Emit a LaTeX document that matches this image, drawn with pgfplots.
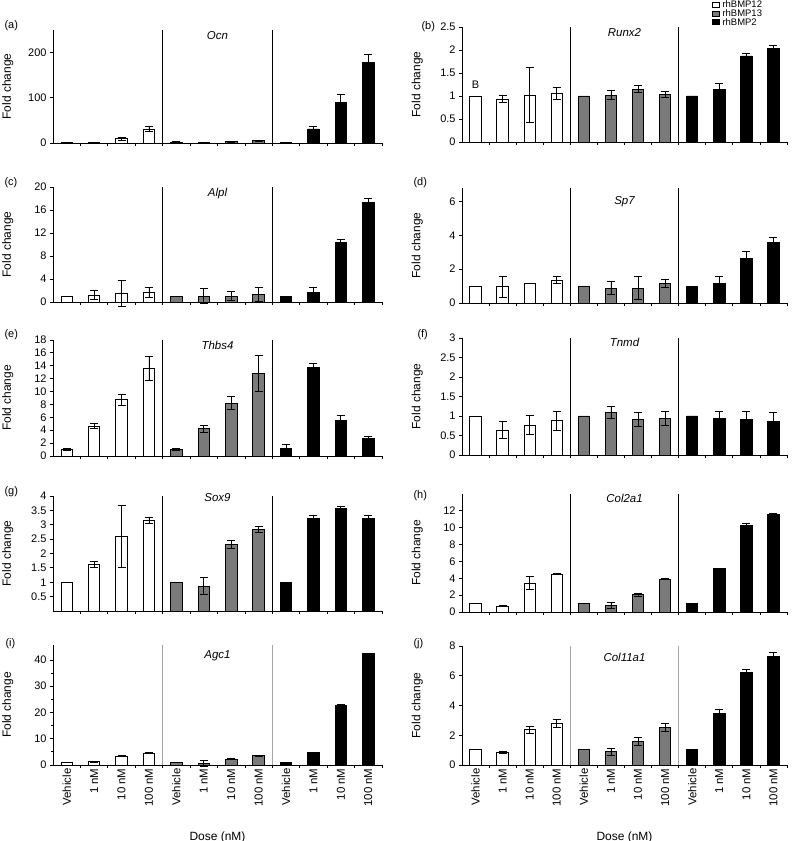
\documentclass[border=0pt]{standalone}
\usepackage{fontspec}
\setmainfont{Liberation Sans}
\usepackage{pgfplots}
\pgfplotsset{compat=1.18}
\definecolor{bgray}{HTML}{7A7A7A}
\pgfplotsset{
  eb/.style={error bars/.cd, y dir=both, y explicit,
    error bar style={line width=0.9bp, black},
    error mark options={line width=0.9bp, black, mark size=4bp, rotate=90}},
  wb/.style={ybar, bar shift=0pt, bar width=0.42, fill=white, draw=black, line width=0.9bp, eb},
  gb/.style={ybar, bar shift=0pt, bar width=0.42, fill=bgray, draw=black, line width=0.9bp, eb},
  kb/.style={ybar, bar shift=0pt, bar width=0.42, fill=black, draw=black, line width=0.9bp, eb},
  panel/.style={
    scale only axis, ybar,
    xmin=-0.5, xmax=11.5, ymin=0,
    axis x line*=bottom, axis y line*=left,
    axis line style={line width=0.8bp},
    xtick={0.5,1.5,...,11.5}, xticklabels={},
    tick align=outside, major tick length=3bp, minor tick length=2bp,
    tick style={line width=0.8bp, black},
    /pgf/number format/assume math mode=true,
    /pgf/number format/fixed,
    yticklabel style={font=\fontsize{11}{13}\selectfont},
    ylabel={Fold change},
    every axis y label/.style={at={(axis description cs:-0.11,0.5)}, rotate=90, anchor=south, font=\fontsize{12}{14}\selectfont},
    clip=false,
  },
  sep/.style={execute at end axis={\draw[line width=0.8bp,#1] (rel axis cs:0.33333,0) -- (rel axis cs:0.33333,1) (rel axis cs:0.66667,0) -- (rel axis cs:0.66667,1);}},
  bottom/.style={
    extra x ticks={0,...,11},
    extra x tick labels={Vehicle,1 nM,10 nM,100 nM,Vehicle,1 nM,10 nM,100 nM,Vehicle,1 nM,10 nM,100 nM},
    extra x tick style={major tick length=0pt, xticklabel style={rotate=90, anchor=east, font=\fontsize{11.5}{13}\selectfont}},
    xlabel={Dose (nM)},
    every axis x label/.style={at={(axis description cs:0.5,0)}, anchor=center, yshift=-72bp, font=\fontsize{12}{14}\selectfont},
  },
}
\newcommand{\gene}[2]{\node[font=\itshape\fontsize{11.5}{13}\selectfont] at (rel axis cs:0.5,#1) {#2};}
\begin{document}
\begin{tikzpicture}[x=1bp,y=1bp]
\useasboundingbox (0,0) rectangle (792,841);
\tikzset{plab/.style={anchor=west, font=\fontsize{11}{13}\selectfont}}
\node[plab] at (1,815) {(a)};
\node[plab] at (418,814) {(b)};
\node[plab] at (1,658) {(c)};
\node[plab] at (410,658) {(d)};
\node[plab] at (1,506) {(e)};
\node[plab] at (414,506) {(f)};
\node[plab] at (1,349) {(g)};
\node[plab] at (410,345) {(h)};
\node[plab] at (2,197) {(i)};
\node[plab] at (410,197) {(j)};

% (a) Ocn
\begin{axis}[panel, sep=black, at={(53bp,698bp)}, anchor=south west, width=329bp, height=113bp,
  ymax=250, ytick={0,100,200}]
\addplot[wb] coordinates {(0,1) +- (0,0) (1,1) +- (0,0) (2,9) +- (0,3) (3,31) +- (0,6)};
\addplot[gb] coordinates {(4,2) +- (0,0.5) (5,1.5) +- (0,0.5) (6,3) +- (0,1) (7,5) +- (0,1.5)};
\addplot[kb] coordinates {(8,1) +- (0,0) (9,31) +- (0,5) (10,89) +- (0,19) (11,178) +- (0,17)};
\gene{0.947}{Ocn}
\end{axis}

% (b) Runx2
\begin{axis}[panel, sep=black, at={(462bp,699bp)}, anchor=south west, width=325bp, height=115bp,
  ymax=2.5, ytick={0,0.5,...,2.5},
  legend style={at={(rel axis cs:0.77,1.235)}, anchor=north west, draw=none, fill=none,
    font=\fontsize{9.5}{9.5}\selectfont, row sep=0pt, column sep=2bp, inner sep=0pt,
    nodes={inner sep=0.5bp, text height=7.2bp, text depth=0.6bp}},
  legend cell align=left]
\addlegendimage{legend image code/.code={\draw[fill=white,draw=black,line width=0.6bp] (0bp,-2.5bp) rectangle (7bp,2.5bp);}}
\addlegendimage{legend image code/.code={\draw[fill=bgray,draw=black,line width=0.6bp] (0bp,-2.5bp) rectangle (7bp,2.5bp);}}
\addlegendimage{legend image code/.code={\draw[fill=black,draw=black,line width=0.6bp] (0bp,-2.5bp) rectangle (7bp,2.5bp);}}
\legend{rhBMP12,rhBMP13,rhBMP2}
\addplot[wb] coordinates {(0,1) +- (0,0) (1,0.93) +- (0,0.08) (2,1.02) +- (0,0.6) (3,1.05) +- (0,0.13)};
\addplot[gb] coordinates {(4,1) +- (0,0) (5,1.02) +- (0,0.1) (6,1.15) +- (0,0.08) (7,1.03) +- (0,0.06)};
\addplot[kb] coordinates {(8,1) +- (0,0) (9,1.15) +- (0,0.13) (10,1.87) +- (0,0.06) (11,2.03) +- (0,0.07)};
\gene{0.955}{Runx2}
\node[font=\fontsize{11}{13}\selectfont] at (axis cs:0,1.24) {B};
\end{axis}

% (c) Alpl
\begin{axis}[panel, sep=black, at={(53bp,539bp)}, anchor=south west, width=329bp, height=115bp,
  ymax=20, ytick={0,4,...,20}]
\addplot[wb] coordinates {(0,0.9) +- (0,0) (1,1.2) +- (0,0.75) (2,1.5) +- (0,2.3) (3,1.6) +- (0,0.85)};
\addplot[gb] coordinates {(4,0.9) +- (0,0) (5,1.0) +- (0,1.3) (6,1.0) +- (0,0.8) (7,1.3) +- (0,1.15)};
\addplot[kb] coordinates {(8,0.9) +- (0,0) (9,1.6) +- (0,0.85) (10,10.3) +- (0,0.6) (11,17.3) +- (0,0.7)};
\gene{0.94}{Alpl}
\end{axis}

% (d) Sp7
\begin{axis}[panel, sep=black, at={(462bp,538bp)}, anchor=south west, width=325bp, height=115bp,
  ymax=6.8, ytick={0,2,4,6}]
\addplot[wb] coordinates {(0,1) +- (0,0) (1,0.95) +- (0,0.6) (2,1.15) +- (0,0) (3,1.35) +- (0,0.2)};
\addplot[gb] coordinates {(4,1) +- (0,0) (5,0.88) +- (0,0.38) (6,0.88) +- (0,0.68) (7,1.17) +- (0,0.25)};
\addplot[kb] coordinates {(8,1) +- (0,0) (9,1.17) +- (0,0.38) (10,2.65) +- (0,0.38) (11,3.6) +- (0,0.28)};
\gene{0.88}{Sp7}
\end{axis}

% (e) Thbs4
\begin{axis}[panel, sep=black, at={(53bp,385bp)}, anchor=south west, width=329bp, height=116bp,
  ymax=18, ytick={0,2,...,18}]
\addplot[wb] coordinates {(0,1) +- (0,0.15) (1,4.6) +- (0,0.4) (2,8.7) +- (0,0.9) (3,13.6) +- (0,1.9)};
\addplot[gb] coordinates {(4,1) +- (0,0.1) (5,4.2) +- (0,0.5) (6,8.2) +- (0,1.0) (7,12.8) +- (0,2.8)};
\addplot[kb] coordinates {(8,1.2) +- (0,0.6) (9,13.8) +- (0,0.5) (10,5.5) +- (0,0.85) (11,2.65) +- (0,0.35)};
\gene{0.957}{Thbs4}
\end{axis}

% (f) Tnmd
\begin{axis}[panel, sep=black, at={(462bp,386bp)}, anchor=south west, width=325bp, height=117bp,
  ymax=3, ytick={0,0.5,...,3}]
\addplot[wb] coordinates {(0,1) +- (0,0) (1,0.64) +- (0,0.22) (2,0.77) +- (0,0.25) (3,0.88) +- (0,0.24)};
\addplot[gb] coordinates {(4,1) +- (0,0) (5,1.09) +- (0,0.16) (6,0.9) +- (0,0.18) (7,0.93) +- (0,0.18)};
\addplot[kb] coordinates {(8,1) +- (0,0) (9,0.93) +- (0,0.18) (10,0.9) +- (0,0.21) (11,0.87) +- (0,0.21)};
\gene{0.966}{Tnmd}
\end{axis}

% (g) Sox9
\begin{axis}[panel, sep=black, at={(53bp,230bp)}, anchor=south west, width=329bp, height=115bp,
  ymax=4, ytick={0.5,1,...,4}]
\addplot[wb] coordinates {(0,1) +- (0,0) (1,1.62) +- (0,0.1) (2,2.6) +- (0,1.07) (3,3.15) +- (0,0.12)};
\addplot[gb] coordinates {(4,1) +- (0,0) (5,0.86) +- (0,0.3) (6,2.32) +- (0,0.14) (7,2.84) +- (0,0.1)};
\addplot[kb] coordinates {(8,1) +- (0,0) (9,3.22) +- (0,0.12) (10,3.56) +- (0,0.08) (11,3.22) +- (0,0.12)};
\gene{0.99}{Sox9}
\end{axis}

% (h) Col2a1
\begin{axis}[panel, sep=black, at={(462bp,229bp)}, anchor=south west, width=325bp, height=118bp,
  ymax=14, ytick={0,2,...,12}]
\addplot[wb] coordinates {(0,1.05) +- (0,0) (1,0.68) +- (0,0.08) (2,3.44) +- (0,0.75) (3,4.5) +- (0,0.1)};
\addplot[gb] coordinates {(4,1.05) +- (0,0) (5,0.75) +- (0,0.35) (6,2.05) +- (0,0.2) (7,3.9) +- (0,0.05)};
\addplot[kb] coordinates {(8,1.05) +- (0,0) (9,5.15) +- (0,0.05) (10,10.3) +- (0,0.25) (11,11.6) +- (0,0.05)};
\gene{0.966}{Col2a1}
\end{axis}

% (i) Agc1
\begin{axis}[panel, bottom, sep=gray!70, at={(53bp,76bp)}, anchor=south west, width=329bp, height=120bp,
  ymax=45.7, ytick={0,10,...,40}, minor y tick num=1]
\addplot[wb] coordinates {(0,1) +- (0,0) (1,1.2) +- (0,0.1) (2,3.3) +- (0,0.2) (3,4.5) +- (0,0.2)};
\addplot[gb] coordinates {(4,1) +- (0,0) (5,0.6) +- (0,1.2) (6,2.2) +- (0,0.2) (7,3.45) +- (0,0.1)};
\addplot[kb] coordinates {(8,1) +- (0,0) (9,4.6) +- (0,0.2) (10,22.8) +- (0,0.2) (11,42.5) +- (0,0.1)};
\gene{0.91}{Agc1}
\end{axis}

% (j) Col11a1
\begin{axis}[panel, bottom, sep=gray!70, at={(462bp,76bp)}, anchor=south west, width=325bp, height=119bp,
  ymax=8, ytick={0,2,...,8}]
\addplot[wb] coordinates {(0,1.05) +- (0,0) (1,0.86) +- (0,0.05) (2,2.36) +- (0,0.24) (3,2.77) +- (0,0.26)};
\addplot[gb] coordinates {(4,1.05) +- (0,0) (5,0.88) +- (0,0.25) (6,1.58) +- (0,0.24) (7,2.52) +- (0,0.25)};
\addplot[kb] coordinates {(8,1.05) +- (0,0) (9,3.45) +- (0,0.3) (10,6.19) +- (0,0.23) (11,7.27) +- (0,0.27)};
\gene{0.90}{Col11a1}
\end{axis}
\end{tikzpicture}
\end{document}
